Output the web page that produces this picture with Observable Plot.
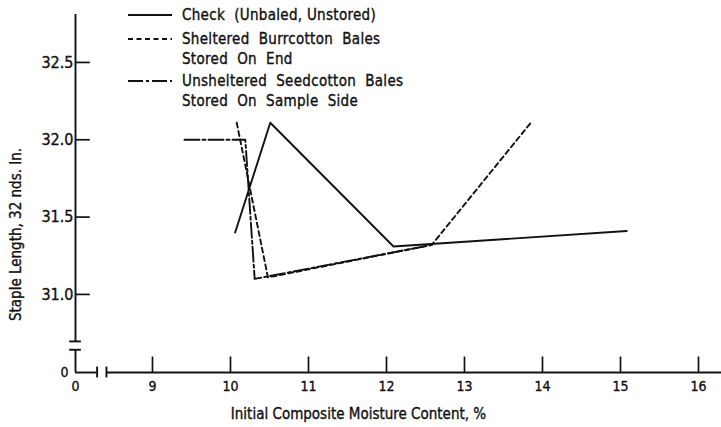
<!DOCTYPE html>
<html><head><meta charset="utf-8">
<script src="https://cdn.jsdelivr.net/npm/d3@7"></script>
<script src="https://cdn.jsdelivr.net/npm/@observablehq/plot@0.6"></script>
<style>
body{margin:0;background:#fff}
#chart{position:relative;width:721px;height:427px}
#chart svg{font-family:"DejaVu Sans Condensed","Liberation Sans Narrow","DejaVu Sans",sans-serif;}
#chart svg text{stroke:#111;stroke-width:0.35px;}
</style></head><body><div id="chart"></div>
<script>
// ---- data ----
const checkX = [10.06, 10.51, 12.09, 15.08];
const checkY = [31.40, 32.11, 31.31, 31.41];
const shelteredX = [10.08, 10.48, 12.58, 13.85];
const shelteredY = [32.11, 31.11, 31.32, 32.11];
const unshelteredX = [9.41, 10.19, 10.31, 12.58];
const unshelteredY = [32.00, 32.00, 31.10, 31.32];
const seriesLabels = [
  ["Check  (Unbaled, Unstored)"],
  ["Sheltered  Burrcotton  Bales", "Stored  On  End"],
  ["Unsheltered  Seedcotton  Bales", "Stored  On  Sample  Side"]
];
const xTicks = [9, 10, 11, 12, 13, 14, 15, 16];
const yTicks = [31.0, 31.5, 32.0, 32.5];
const yTickLabels = ["31.0", "31.5", "32.0", "32.5"];
const xTitle = "Initial Composite Moisture Content, %";
const yTitle = "Staple Length, 32 nds. In.";

// ---- broken-axis layout (origin "0" drawn at the break) ----
const xZero = 8.013, xMax = 16.295, xBreakA = 8.29, xBreakB = 8.41;
const yZero = 30.495, yMax = 32.81, yBreakA = 30.642, yBreakB = 30.696;

const toRows = (xs, ys) => xs.map((x, i) => ({x, y: ys[i]}));
const check = toRows(checkX, checkY);
const sheltered = toRows(shelteredX, shelteredY);
const unsheltered = toRows(unshelteredX, unshelteredY);

const dashSheltered = "5,3.5";
const dashUnsheltered = "15,3,3,3";
const lw = 1.9;

const plot = Plot.plot({
  width: 721, height: 427,
  marginLeft: 75, marginRight: 0, marginTop: 14, marginBottom: 55,
  x: {domain: [xZero, xMax]},
  y: {domain: [yZero, yMax]},
  style: {fontSize: "13px", color: "#111"},
  marks: [
    // axis lines with breaks
    Plot.ruleY([yZero], {x1: xZero, x2: xBreakA, strokeWidth: 1.9}),
    Plot.ruleY([yZero], {x1: xBreakB, x2: xMax, strokeWidth: 1.9}),
    Plot.ruleX([xBreakA, xBreakB], {y1: yZero - 0.035, y2: yZero + 0.035, strokeWidth: 1.9}),
    Plot.ruleX([xZero], {y1: yZero, y2: yBreakA, strokeWidth: 1.9}),
    Plot.ruleX([xZero], {y1: yBreakB, y2: yMax, strokeWidth: 1.9}),
    Plot.ruleY([yBreakA, yBreakB], {x1: xZero - 0.075, x2: xZero + 0.075, strokeWidth: 1.9}),
    // inward ticks
    Plot.ruleY(yTicks, {x1: xZero, x2: xZero + 0.19, strokeWidth: 1.7}),
    Plot.ruleX(xTicks, {y1: yZero, y2: yZero + 0.1, strokeWidth: 1.7}),
    // tick labels
    Plot.axisX({ticks: [xZero, ...xTicks], tickSize: 0, tickPadding: 9, label: null,
      tickFormat: d => d === xZero ? "0" : String(d), fontSize: 14}),
    Plot.axisY({ticks: yTicks, tickSize: 0, tickPadding: 2, label: null,
      tickFormat: d => yTickLabels[yTicks.indexOf(d)], fontSize: 16}),
    Plot.axisY({ticks: [yZero], tickSize: 0, tickPadding: 7, label: null,
      tickFormat: () => "0", fontSize: 14}),
    // titles
    Plot.text([xTitle], {frameAnchor: "bottom", textAnchor: "middle", dx: -40, dy: 46,
      fontSize: 15, letterSpacing: 0.3, text: d => d}),
    Plot.text([yTitle], {frameAnchor: "left", textAnchor: "middle", rotate: -90, dx: -59, dy: 41,
      fontSize: 15, letterSpacing: 0.3, text: d => d}),
    // series
    Plot.line(check, {x: "x", y: "y", stroke: "#111", strokeWidth: lw}),
    Plot.line(sheltered, {x: "x", y: "y", stroke: "#111", strokeWidth: lw, strokeDasharray: dashSheltered}),
    Plot.line(unsheltered, {x: "x", y: "y", stroke: "#111", strokeWidth: lw, strokeDasharray: dashUnsheltered})
  ]
});
document.getElementById("chart").appendChild(plot);

// ---- legend (inside plot area, top) ----
const svg = d3.select(plot);
const lg = svg.append("g").attr("font-size", 15).attr("fill", "#111").attr("text-anchor", "start");
const legendRows = [
  {dash: null, lines: seriesLabels[0], y: 15},
  {dash: dashSheltered, lines: seriesLabels[1], y: 39},
  {dash: dashUnsheltered, lines: seriesLabels[2], y: 81}
];
legendRows.forEach(r => {
  lg.append("line").attr("x1", 128).attr("x2", 172).attr("y1", r.y).attr("y2", r.y)
    .attr("stroke", "#111").attr("stroke-width", lw)
    .attr("stroke-dasharray", r.dash);
  r.lines.forEach((t, i) => {
    lg.append("text").attr("x", 182).attr("y", r.y + i * 20).attr("dy", "0.35em")
      .attr("letter-spacing", 0.3).style("white-space", "pre").text(t);
  });
});
</script>
</body></html>
